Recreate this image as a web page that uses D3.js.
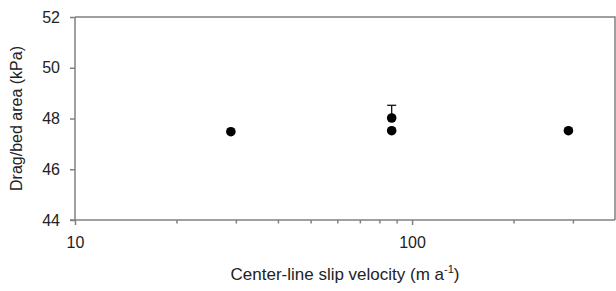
<!DOCTYPE html>
<html>
<head>
<meta charset="utf-8">
<script src="https://cdn.jsdelivr.net/npm/d3@7"></script>
<style>
  html, body { margin: 0; padding: 0; background: #fff; }
  svg { display: block; }
  text { font-family: "Liberation Sans", Arial, sans-serif; fill: #222; }
</style>
</head>
<body>
<svg id="chart" width="616" height="291"></svg>
<script>
// values
var velocity = [29, 87, 87, 291];
var drag = [47.48, 47.52, 48.02, 47.52];
var errUp = [0, 0, 0.5, 0];

var yTicks = [44, 46, 48, 50, 52];
var xMajor = [10, 100];
var xMinor = [20, 30, 40, 50, 60, 70, 80, 90, 200, 300];

var xTitle = "Center-line slip velocity (m a";
var yTitle = "Drag/bed area (kPa)";

var margin = {top: 17, right: 1, bottom: 71, left: 75},
	width = 616 - margin.left - margin.right,
	height = 291 - margin.top - margin.bottom,
	axisColor = "#808080",
	fontSize = 16;

var x = d3.scaleLog().domain([10, 400]).range([0, width]);
var y = d3.scaleLinear().domain([44, 52]).range([height, 0]);

var svg = d3.select("#chart");
var g = svg.append("g")
	.attr("transform", "translate(" + margin.left + "," + margin.top + ")");

// frame top + right
g.append("path")
	.attr("d", "M0,0H" + width + "V" + height)
	.attr("fill", "none")
	.attr("stroke", axisColor)
	.attr("stroke-width", 1.5);

// x axis: minor ticks first, then majors with labels
var xMinorAxis = d3.axisBottom(x).tickValues(xMinor).tickSize(3.5).tickFormat("");
g.append("g")
	.attr("transform", "translate(0," + height + ")")
	.call(xMinorAxis)
	.call(s => s.select(".domain").remove())
	.selectAll("line").attr("stroke", axisColor).attr("stroke-width", 1.5);

var xAxis = d3.axisBottom(x).tickValues(xMajor).tickSize(5).tickPadding(12)
	.tickFormat(d3.format("d"));
var gx = g.append("g")
	.attr("transform", "translate(0," + height + ")")
	.call(xAxis);
gx.select(".domain").attr("stroke", axisColor).attr("stroke-width", 1.5)
	.attr("d", "M-5,0H" + width);
gx.selectAll("line").attr("stroke", axisColor).attr("stroke-width", 1.5);
gx.selectAll("text").attr("font-size", fontSize).attr("fill", "#222");

var yAxis = d3.axisLeft(y).tickValues(yTicks).tickSize(5).tickPadding(10);
var gy = g.append("g").call(yAxis);
gy.select(".domain").attr("stroke", axisColor).attr("stroke-width", 1.5)
	.attr("d", "M0,0V" + height);
gy.selectAll("line").attr("stroke", axisColor).attr("stroke-width", 1.5);
gy.selectAll("text").attr("font-size", fontSize).attr("fill", "#222");

// error bars (upper only)
var pts = velocity.map((v, i) => ({v: v, d: drag[i], e: errUp[i]}));
var eb = g.append("g").selectAll("g")
	.data(pts.filter(p => p.e > 0))
	.enter().append("g");
eb.append("line")
	.attr("x1", p => x(p.v)).attr("x2", p => x(p.v))
	.attr("y1", p => y(p.d)).attr("y2", p => y(p.d + p.e))
	.attr("stroke", "#111").attr("stroke-width", 1.3);
eb.append("line")
	.attr("x1", p => x(p.v) - 4.5).attr("x2", p => x(p.v) + 4.5)
	.attr("y1", p => y(p.d + p.e)).attr("y2", p => y(p.d + p.e))
	.attr("stroke", "#111").attr("stroke-width", 1.3);

g.append("g").selectAll("circle")
	.data(pts)
	.enter().append("circle")
	.attr("cx", p => x(p.v))
	.attr("cy", p => y(p.d))
	.attr("r", 4.8)
	.attr("fill", "#000");

// titles
var xt = svg.append("text")
	.attr("x", margin.left + width / 2)
	.attr("y", 280)
	.attr("text-anchor", "middle")
	.attr("font-size", 17);
xt.append("tspan").text(xTitle);
xt.append("tspan").attr("dy", -7).attr("font-size", 11).text("-1");
xt.append("tspan").attr("dy", 7).text(")");

svg.append("text")
	.attr("transform", "translate(22," + (margin.top + height / 2) + ") rotate(-90)")
	.attr("text-anchor", "middle")
	.attr("font-size", fontSize)
	.text(yTitle);
</script>
</body>
</html>
